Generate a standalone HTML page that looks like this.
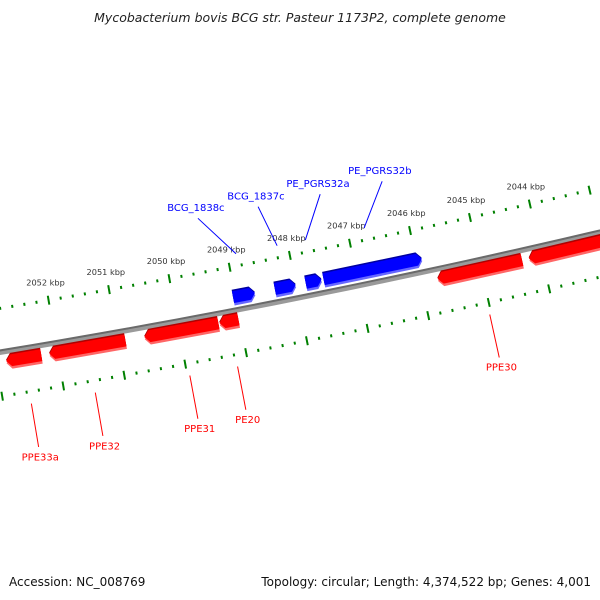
<!DOCTYPE html>
<html><head><meta charset="utf-8">
<style>
html,body{margin:0;padding:0;background:#fff;}
svg{display:block;font-family:"DejaVu Sans","Liberation Sans",sans-serif;}
</style></head>
<body>
<svg id="chart" xmlns="http://www.w3.org/2000/svg" width="600" height="600" viewBox="0 0 600 600">
<rect x="0" y="0" width="600" height="600" fill="#fff"/>
<text x="300" y="22" text-anchor="middle" font-size="12.5" font-style="italic" fill="#222">Mycobacterium bovis BCG str. Pasteur 1173P2, complete genome</text>
<g id="plot"></g>
<text x="9" y="586" font-size="12" fill="#111">Accession: NC_008769</text>
<text x="591" y="586" text-anchor="end" font-size="12" fill="#111">Topology: circular; Length: 4,374,522 bp; Genes: 4,001</text>
</svg>
<script>
// ---- data ----
const featNames  = ["PPE33a","PPE32","PPE31","PE20","PPE30","PPE29","BCG_1838c","BCG_1837c","PE_PGRS32a","PE_PGRS32b"];
const featStarts = [2052267,2050883,2049351,2049021,2044326,2041300,2048675,2048000,2047572,2045908];
const featEnds   = [2052843,2052135,2050570,2049334,2045727,2044211,2049038,2048346,2047835,2047539];
const featStrand = [1,1,1,1,1,1,-1,-1,-1,-1];
const featLabeled= [true,true,true,true,true,false,true,true,true,true];
const blueLabelBp= [2049359,2048354,2047316,2046278];
const tickMin = 2040000, tickMax = 2056000, tickMinorStep = 200, tickMajorStep = 1000;

// ---- geometry ----
const CX=-1465, CY=-8528, A0=1.3736, BP0=2048000, K=6.85e-6;
const R_BACK=9000, R_TICK_IN=8957, R_TICK_OUT=9044;
function ang(bp){return A0+(bp-BP0)*K;}
function P(bp,r){const a=ang(bp);return [CX+r*Math.cos(a), CY+r*Math.sin(a)];}
const NS="http://www.w3.org/2000/svg";
const plot=document.getElementById('plot');
function mk(tag,attrs,parent){const e=document.createElementNS(NS,tag);for(const k in attrs)e.setAttribute(k,attrs[k]);(parent||plot).appendChild(e);return e;}

// backbone
function arcPath(r,b1,b2){let d="";const n=40;for(let i=0;i<=n;i++){const p=P(b1+(b2-b1)*i/n,r);d+=(i?"L":"M")+p[0].toFixed(2)+","+p[1].toFixed(2);}return d;}
let bb=mk('path',{d:arcPath(R_BACK+0.5,tickMin,tickMax),stroke:"#9a9a9a","stroke-width":5,fill:"none"});


let bb2=mk('path',{d:arcPath(R_BACK-1.5,tickMin,tickMax),stroke:"#6a6a6a","stroke-width":2,fill:"none"});



// ticks
function drawTrack(rc,labeled,name){
  const g=mk('g',{});
  
  
  for(let bp=tickMin;bp<=tickMax;bp+=tickMinorStep){
    const major=(bp%tickMajorStep===0);
    const h=major?4.5:1.5;
    const p1=P(bp,rc-h),p2=P(bp,rc+h);
    const t=mk('line',{x1:p1[0],y1:p1[1],x2:p2[0],y2:p2[1],stroke:"#008000","stroke-width":2},g);
    
    
    if(major&&labeled){
      const q=P(bp,rc-18);
      if(q[0]<22||q[0]>578)continue;
      const tx=mk('text',{x:q[0],y:q[1]+3,"text-anchor":"middle","font-size":"8.2",fill:"#333"},g);
      tx.textContent=(bp/1000)+" kbp";
      
      
    }
  }
}
drawTrack(R_TICK_IN,true,'scale-track-inner');
drawTrack(R_TICK_OUT,false,'scale-track-outer');

// features
function arrowPts(s,e,strand,r1,r2){
  const headBp=5/(R_BACK*K);
  const rm=(r1+r2)/2;let pts=[];
  if(strand>0){
    const hb=Math.max(s,e-headBp);
    pts=[P(s,r1),P(hb,r1),P(e,rm),P(hb,r2),P(s,r2)];
  }else{
    const hb=Math.min(e,s+headBp);
    pts=[P(e,r1),P(hb,r1),P(s,rm),P(hb,r2),P(e,r2)];
  }
  return pts.map(p=>p[0].toFixed(2)+","+p[1].toFixed(2)).join(" ");
}
let bi=0;
for(let i=0;i<featNames.length;i++){
  const s=featStarts[i],e=featEnds[i],st=featStrand[i];
  const g=mk('g',{});
  
  
  let r1,r2,c,cl,cd;
  if(st>0){r1=R_BACK+3.5;r2=R_BACK+16;c="#ff0000";cl="#ff6666";cd="#b00000";}
  else{r1=R_BACK-19.5;r2=R_BACK-7;c="#0000ff";cl="#6666ff";cd="#0000a0";}
  let a=mk('polygon',{points:arrowPts(s,e,st,r1+2.5,r2+2.5),fill:cl},g);
  
  
  let b=mk('polygon',{points:arrowPts(s,e,st,r1-1,r2-1),fill:cd},g);
  
  
  let m=mk('polygon',{points:arrowPts(s,e,st,r1+0.5,r2),fill:c},g);
  
  
  if(!featLabeled[i])continue;
  const mid=(s+e)/2;
  let p1,p2,pt;
  if(st>0){p1=P(mid,9056);p2=P(mid,9100);pt=P(mid,9110);}
  else{const lb=blueLabelBp[bi++];p1=P(mid,8945);p2=P(lb,8903);pt=P(lb,8892);}
  let ln=mk('line',{x1:p1[0],y1:p1[1],x2:p2[0],y2:p2[1],stroke:c,"stroke-width":1},g);
  
  
  let tx=mk('text',{x:pt[0],y:pt[1]+3.5,"text-anchor":"middle","font-size":"10",fill:c},g);
  tx.textContent=featNames[i];
  
  
}
</script>
</body></html>
